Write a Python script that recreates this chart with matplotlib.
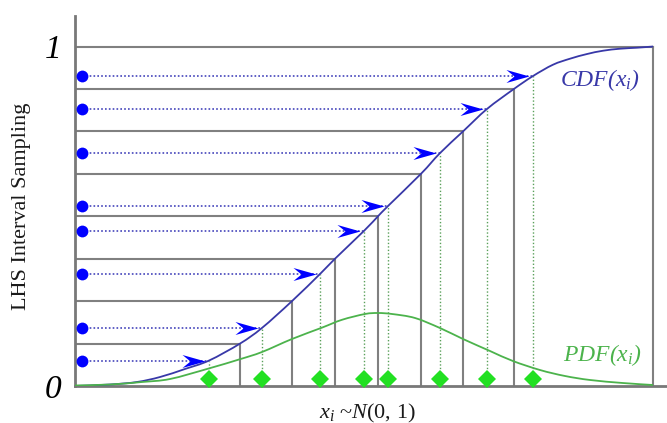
import matplotlib
matplotlib.use('Agg')
import matplotlib.pyplot as plt
from matplotlib.path import Path
from matplotlib.patches import PathPatch
from matplotlib import transforms

# ---------------- data ----------------
cdf_x = [-2.405, -2.127, -1.913, -1.730, -1.532, -1.341, -1.095, -0.921, -0.683,
         -0.460, -0.341, -0.111, 0.0, 0.079, 0.341, 0.492, 0.675, 0.865, 1.079,
         1.230, 1.389, 1.524, 1.659, 1.786, 1.921, 2.056, 2.183]
cdf_y = [0.0, 0.0044, 0.0118, 0.0265, 0.0501, 0.075, 0.125, 0.171, 0.25,
         0.330, 0.375, 0.457, 0.5, 0.530, 0.625, 0.686, 0.75, 0.816, 0.875,
         0.913, 0.9464, 0.9641, 0.9779, 0.9876, 0.9935, 0.9965, 1.0]

pdf_x = [-2.405, -2.127, -1.873, -1.651, -1.349, -1.095, -0.921, -0.683, -0.444,
         -0.286, -0.103, 0.0, 0.111, 0.294, 0.492, 0.675, 0.889, 1.071, 1.286,
         1.484, 1.683, 1.944, 2.183]
pdf_y = [0.0015, 0.0044, 0.0118, 0.0206, 0.0510, 0.0790, 0.1001, 0.1384, 0.1720,
         0.1950, 0.2121, 0.2150, 0.2121, 0.2003, 0.1708, 0.1384, 0.1031, 0.0736, 0.0471,
         0.0295, 0.0177, 0.0088, 0.0029]

edge_x = [-1.095, -0.683, -0.341, 0.0, 0.341, 0.675, 1.079]
edge_p = [0.125, 0.25, 0.375, 0.5, 0.625, 0.75, 0.875]

sample_x = [-1.341, -0.921, -0.460, -0.111, 0.079, 0.492, 0.865, 1.230]
sample_u = [0.075, 0.171, 0.330, 0.457, 0.530, 0.686, 0.816, 0.913]

x_lo, x_hi = -2.405, 2.294
x_end = 2.183
y_top = 1.0899

ytick_vals = [0, 1]
ytick_labels = ['0', '1']

# ---------------- style ----------------
plt.rcParams['mathtext.fontset'] = 'custom'
plt.rcParams['mathtext.rm'] = 'Liberation Serif'
plt.rcParams['mathtext.it'] = 'Liberation Serif:italic'
SERIF = ['Liberation Serif', 'DejaVu Serif']

GRAY = '#808080'
CDF_C = '#3838a8'
PDF_C = '#4cb34c'
DOT_C = '#0000ff'
DIA_C = '#22e022'


def smooth_path(xs, ys):
    """Cubic Bezier path through the given points (Catmull-Rom control handles)."""
    pts = list(zip(xs, ys))
    n = len(pts)
    verts = [pts[0]]
    codes = [Path.MOVETO]
    for i in range(n - 1):
        p0 = pts[i - 1] if i > 0 else pts[i]
        p1 = pts[i]
        p2 = pts[i + 1]
        p3 = pts[i + 2] if i + 2 < n else pts[i + 1]
        c1 = (p1[0] + (p2[0] - p0[0]) / 6.0, p1[1] + (p2[1] - p0[1]) / 6.0)
        c2 = (p2[0] - (p3[0] - p1[0]) / 6.0, p2[1] - (p3[1] - p1[1]) / 6.0)
        verts += [c1, c2, p2]
        codes += [Path.CURVE4] * 3
    return Path(verts, codes)


fig = plt.figure(figsize=(6.67, 4.23), dpi=100)
ax = fig.add_axes([75 / 667, 37 / 423, 592 / 667, 370 / 423])
ax.set_xlim(x_lo, x_hi)
ax.set_ylim(0, y_top)

for s in ['top', 'right']:
    ax.spines[s].set_visible(False)
for s in ['left', 'bottom']:
    ax.spines[s].set_color('#787878')
    ax.spines[s].set_linewidth(2.0)

ax.set_xticks([])
ax.set_yticks(ytick_vals)
ax.set_yticklabels(ytick_labels, fontsize=24, fontstyle='italic', family=SERIF)
ax.tick_params(axis='y', length=0, pad=10)

# grid of interval boundaries
for bx, bp in zip(edge_x, edge_p):
    ax.plot([x_lo, bx], [bp, bp], color=GRAY, lw=1.5, zorder=1, solid_capstyle='butt')
    ax.plot([bx, bx], [0, bp], color=GRAY, lw=1.5, zorder=1, solid_capstyle='butt')
ax.plot([x_lo, x_end], [1, 1], color=GRAY, lw=1.5, zorder=1)
ax.plot([x_end, x_end], [0, 1], color=GRAY, lw=1.5, zorder=1)

# curves
ax.add_patch(PathPatch(smooth_path(cdf_x, cdf_y), fill=False, edgecolor=CDF_C,
                       lw=1.3, zorder=3))
ax.add_patch(PathPatch(smooth_path(pdf_x, pdf_y), fill=False, edgecolor=PDF_C,
                       lw=1.3, zorder=3))

# sampling arrows
x_dot = x_lo + 0.0118 * (x_hi - x_lo)
arrow_path = Path([(-4, 0), (-27, 6.5), (-19, 0), (-27, -6.5), (-4, 0)],
                  [Path.MOVETO, Path.LINETO, Path.LINETO, Path.LINETO, Path.CLOSEPOLY])
dia_tr = transforms.offset_copy(ax.transData, fig=fig, x=0, y=5, units='points')
for sx, su in zip(sample_x, sample_u):
    ax.plot([x_dot, sx], [su, su], color='#4444bb', lw=1.2,
            linestyle=(0, (1, 1.3)), zorder=2)
    ax.plot([sx, sx], [0, su], color='#5aa05a', lw=1.0,
            linestyle=(0, (1, 1.5)), zorder=2)
    ax.plot([sx], [su], marker=arrow_path, markersize=38.9, color=DOT_C,
            markeredgewidth=0, linestyle='none', zorder=5)
    ax.plot([x_dot], [su], marker='o', markersize=8.5, color=DOT_C,
            markeredgewidth=0, linestyle='none', zorder=5, clip_on=False)
    ax.plot([sx], [0], marker='D', markersize=9.2, color=DIA_C,
            markeredgewidth=0, linestyle='none', zorder=5, clip_on=False,
            transform=dia_tr)

# labels
ax.text(1.444, 0.901, 'CDF($x_i$)', color=CDF_C, fontsize=17, fontstyle='italic',
        family=SERIF, ha='left', va='center')
ax.text(1.468, 0.091, 'PDF($x_i$)', color=PDF_C, fontsize=17, fontstyle='italic',
        family=SERIF, ha='left', va='center')

fig.text(22 / 667, 1 - 206 / 423, 'LHS Interval Sampling', rotation=90,
         fontsize=16, family=SERIF, ha='center', va='center', color='#1a1a1a')
fig.text(367 / 667, 1 - 413 / 423, '$x_i$ ~$N$(0, 1)', fontsize=16,
         family=SERIF, ha='center', va='center', color='#1a1a1a')

fig.savefig('out.png', dpi=100)
